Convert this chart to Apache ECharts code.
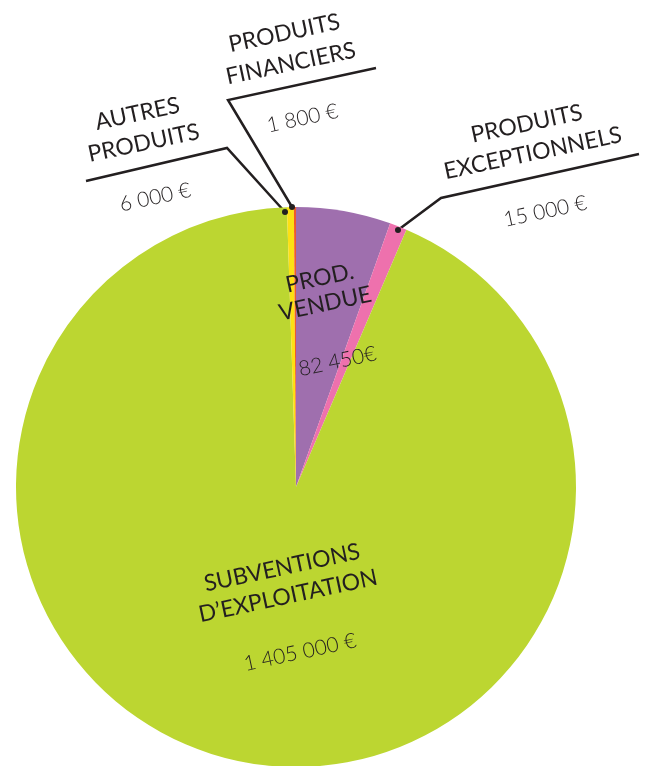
<!DOCTYPE html>
<html>
<head>
<meta charset="utf-8">
<script src="https://cdn.jsdelivr.net/npm/echarts@6/dist/echarts.min.js"></script>
<style>
  html, body { margin: 0; padding: 0; background: #fff; }
  #main { width: 651px; height: 766px; }
</style>
</head>
<body>
<div id="main"></div>
<script>
// données (sens horaire à partir de midi)
const names = [
  ['PROD.', 'VENDUE'],
  ['PRODUITS', 'EXCEPTIONNELS'],
  ['SUBVENTIONS', 'D\u2019EXPLOITATION'],
  ['AUTRES', 'PRODUITS'],
  ['PRODUITS', 'FINANCIERS']
];
const values = [82450, 15000, 1405000, 6000, 1800];
const valueLabels = ['82 450€', '15 000 €', '1 405 000 €', '6 000 €', '1 800 €'];
const colors = ['#9f6fae', '#ee71ad', '#bcd631', '#fde013', '#ef5a28'];

// placement des étiquettes (centre du bloc, hauteur de ligne, ligne de rappel)
const layouts = [
  { x: 332, y: 336, lh: 26, gap: 92, line: null },
  { x: 539, y: 182, lh: 30, gap: 89, line: [[398, 230], [441, 198], [639, 154]] },
  { x: 294, y: 624, lh: 29, gap: 86, line: null },
  { x: 149, y: 168, lh: 30, gap: 81, line: [[285, 212], [227, 148], [86, 181]] },
  { x: 296, y: 88, lh: 31, gap: 81, line: [[292, 207], [228, 100], [376, 68]] }
];

const textColor = '#231f20';
const chart = echarts.init(document.getElementById('main'));

const seriesData = values.map((v, i) => ({
  name: names[i].join(' '),
  value: v,
  itemStyle: { color: colors[i] },
  label: {
    rich: {
      n: { fontFamily: 'Lato', fontSize: 23, color: textColor, lineHeight: layouts[i].lh },
      v: { fontFamily: 'Lato', fontSize: 21, fontWeight: 300, color: textColor, lineHeight: layouts[i].gap }
    }
  },
  labelLine: { show: !!layouts[i].line }
}));

const dots = layouts.filter(l => l.line).map(l => ({
  type: 'circle',
  shape: { cx: l.line[0][0], cy: l.line[0][1], r: 3 },
  style: { fill: textColor },
  z: 100
}));

const option = {
  backgroundColor: '#ffffff',
  animation: false,
  graphic: dots,
  series: [{
    type: 'pie',
    center: [296, 487],
    radius: 280,
    startAngle: 90,
    clockwise: true,
    avoidLabelOverlap: false,
    itemStyle: { borderWidth: 0 },
    label: {
      show: true,
      position: 'outside',
      formatter: (p) => '{n|' + names[p.dataIndex][0] + '}\n{n|' + names[p.dataIndex][1] + '}\n{v|' + valueLabels[p.dataIndex] + '}'
    },
    labelLine: {
      lineStyle: { color: textColor, width: 2.5 },
      smooth: false
    },
    labelLayout: (params) => {
      const l = layouts[params.dataIndex];
      const res = { x: l.x, y: l.y, rotate: 12, align: 'center', verticalAlign: 'middle' };
      if (l.line) res.labelLinePoints = l.line;
      return res;
    },
    emphasis: { disabled: true },
    data: seriesData
  }]
};

chart.setOption(option);
</script>
</body>
</html>
